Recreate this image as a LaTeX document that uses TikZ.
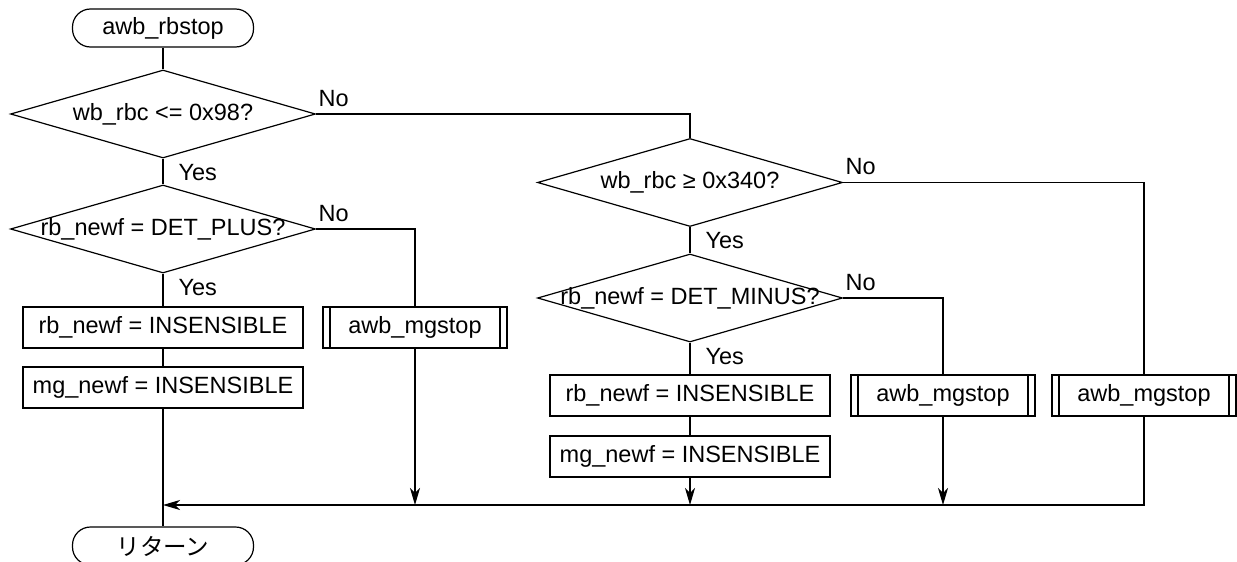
\documentclass[tikz,border=0pt]{standalone}
\usepackage{fontspec}
\setmainfont{Liberation Sans}
\newfontfamily\jpfont{Noto Sans CJK JP}
\usepackage{tikz}
\usetikzlibrary{shapes.geometric, arrows.meta}

\begin{document}
\begin{tikzpicture}[
    x=1pt, y=-1pt,
    line width=1.2pt,
    every node/.style={font=\fontsize{23.5}{28}\selectfont},
    terminal/.style={draw, rectangle, rounded corners=18pt, minimum width=181pt, minimum height=38pt, inner sep=0pt},
    decision/.style={draw, diamond, minimum width=305pt, minimum height=88pt, inner sep=0pt},
    procbox/.style={draw, rectangle, minimum width=280pt, minimum height=41pt, inner sep=0pt},
    subproc/.style={procbox, minimum width=184pt,
      path picture={
        \draw ([xshift=7pt]path picture bounding box.north west) -- ([xshift=7pt]path picture bounding box.south west);
        \draw ([xshift=-7pt]path picture bounding box.north east) -- ([xshift=-7pt]path picture bounding box.south east);
      }},
    flow/.style={-{Stealth[length=17pt, width=10pt, inset=5pt]}},
    yeslabel/.style={anchor=north west, inner sep=0pt, xshift=15pt, yshift=-5pt},
    nolabel/.style={anchor=south west, inner sep=0pt, xshift=2pt, yshift=7pt},
  ]
    \useasboundingbox (0,0) rectangle (1237,562);

    % 左列
    \node[terminal] (start) at (163,28) {awb\_rbstop};
    \node[decision, label=center:{wb\_rbc <= 0x98?}] (d1) at (163,114) {};
    \node[decision, label=center:{rb\_newf = DET\_PLUS?}] (d2) at (163,229) {};
    \node[procbox] (rb1) at (163,327.5) {rb\_newf = INSENSIBLE};
    \node[procbox] (mg1) at (163,387.5) {mg\_newf = INSENSIBLE};
    \node[subproc] (sub1) at (415,327.5) {awb\_mgstop};
    \node[terminal] (ret) at (163,546) {\jpfont リターン};

    % 右列
    \node[decision, label=center:{wb\_rbc ≥ 0x340?}] (d3) at (690,182.5) {};
    \node[decision, label=center:{rb\_newf = DET\_MINUS?}] (d4) at (690,298) {};
    \node[procbox] (rb2) at (690,395.5) {rb\_newf = INSENSIBLE};
    \node[procbox] (mg2) at (690,456.5) {mg\_newf = INSENSIBLE};
    \node[subproc] (sub2) at (943,395.5) {awb\_mgstop};
    \node[subproc] (sub3) at (1144,395.5) {awb\_mgstop};

    % 汇合线
    \coordinate (jl) at (163,505);
    \coordinate (jr) at (1144,505);

    % 连线
    \draw (start) -- (d1);
    \draw (d1) -- (d2);
    \draw (d2) -- (rb1);
    \draw (rb1) -- (mg1);
    \draw (mg1) -- (ret);
    \draw (d1.east) -| (d3.north);
    \draw (d2.east) -| (sub1.north);
    \draw[flow] (sub1) -- (sub1 |- jl);
    \draw (d3) -- (d4);
    \draw (d4) -- (rb2);
    \draw (rb2) -- (mg2);
    \draw[flow] (mg2) -- (mg2 |- jl);
    \draw (d4.east) -| (sub2.north);
    \draw[flow] (sub2) -- (sub2 |- jl);
    \draw (d3.east) -| (sub3.north);
    \draw[flow] (sub3) -- (jr) -- (jl);

    % 分支标签
    \node[nolabel] (no1) at (d1.east) {No};
    \node[yeslabel] (yes1) at (d1.south) {Yes};
    \node[nolabel] (no2) at (d2.east) {No};
    \node[yeslabel] (yes2) at (d2.south) {Yes};
    \node[nolabel] (no3) at (d3.east) {No};
    \node[yeslabel] (yes3) at (d3.south) {Yes};
    \node[nolabel] (no4) at (d4.east) {No};
    \node[yeslabel] (yes4) at (d4.south) {Yes};
  \end{tikzpicture}
\end{document}
